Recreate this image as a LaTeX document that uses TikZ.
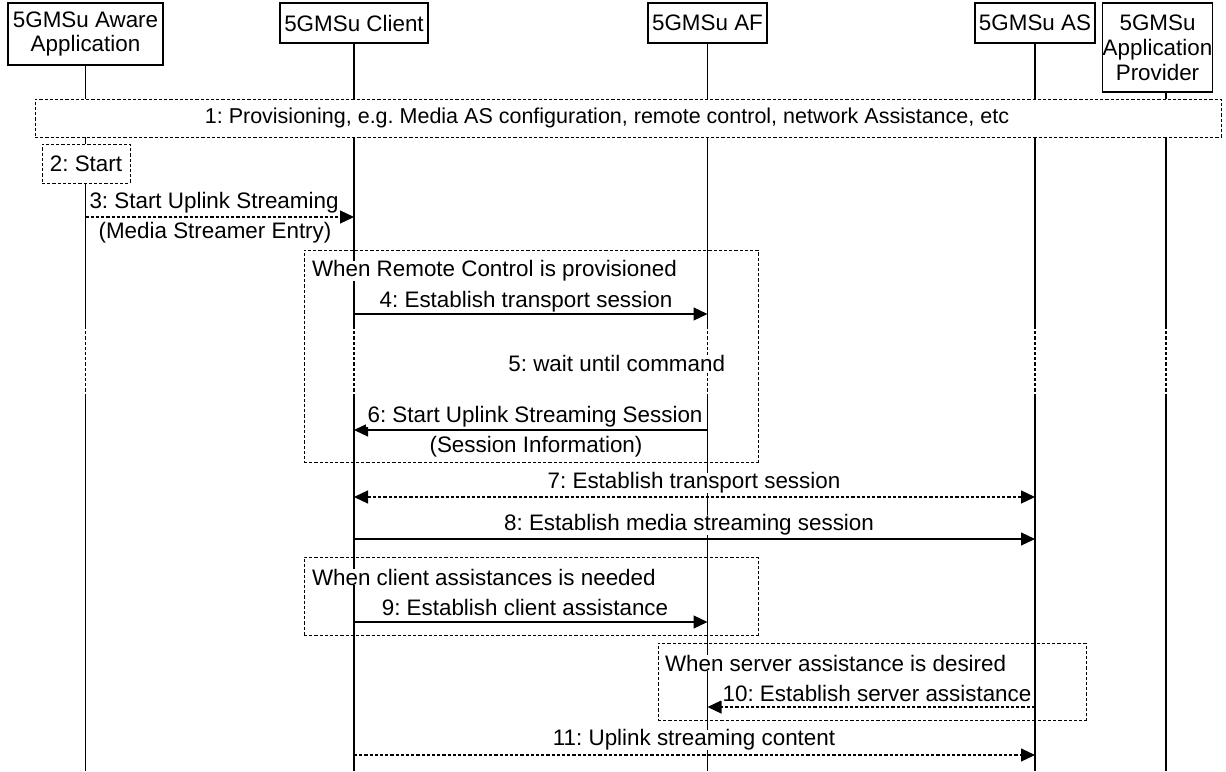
\documentclass[tikz,border=0pt]{standalone}
\usepackage{fontspec}
\setmainfont{Liberation Sans}
\usetikzlibrary{arrows.meta}
\frenchspacing
\begin{document}
\begin{tikzpicture}[x=0.5pt,y=-0.5pt,
  txt/.style={font=\fontsize{11.2}{12.4}\selectfont},
  hdr/.style={txt, draw, line width=0.6pt, fill=white, align=center, inner sep=0pt},
  life/.style={line width=0.6pt},
  dsh/.style={dash pattern=on 1.6pt off 1pt},
  grp/.style={draw, dsh, line width=0.5pt, inner sep=0pt},
  msg/.style={line width=0.6pt, -{Triangle[length=7pt,width=6.5pt]}},
  bimsg/.style={line width=0.6pt, {Triangle[length=7pt,width=6.5pt]}-{Triangle[length=7pt,width=6.5pt]}},
  lbl/.style={txt, fill=white, inner xsep=0.8pt, inner ysep=0pt},
]
\useasboundingbox (0,0) rectangle (1226,771);
% headers
\node[hdr, minimum width=77.5pt, minimum height=31pt] (app) at (85.5,34) {5GMSu Aware\\Application};
\node[hdr, minimum width=74pt, minimum height=20pt] (client) at (354,23) {5GMSu Client};
\node[hdr, minimum width=59.5pt, minimum height=20pt] (af) at (707.5,23) {5GMSu AF};
\node[hdr, minimum width=60pt, minimum height=20pt] (as) at (1035,23) {5GMSu AS};
\node[hdr, minimum width=51.5pt, minimum height=44.5pt] (prov) at (1157.5,47.5) {5GMSu\\Application\\Provider};
\coordinate (provtop) at (1166,92);
% lifelines
\coordinate (d1) at (0,326);
\coordinate (d2) at (0,394);
\coordinate (bot) at (0,771);
\foreach \n in {app.south, client.south, af.south, as.south, provtop} {
  \draw[life] (\n) -- (\n |- d1);
  \draw[life, dsh] (\n |- d1) -- (\n |- d2);
  \draw[life] (\n |- d2) -- (\n |- bot);
}
% step 1 and 2
\node[grp, fill=white, font=\fontsize{10.75}{12}\selectfont, minimum width=593pt, minimum height=19pt] (p1) at (628,118)
  {\hspace*{-21pt}1: Provisioning, e.g. Media AS configuration, remote control, network Assistance, etc};
\node[grp, fill=white, txt, minimum width=44pt, minimum height=19.5pt] (start) at (86,163.5) {2: Start};
% group frames
\node[grp, minimum width=227pt, minimum height=106pt] (rc) at (531,356) {};
\node[grp, minimum width=227pt, minimum height=39pt] (ca) at (531,596) {};
\node[grp, minimum width=214pt, minimum height=38.5pt] (sa) at (872,681.5) {};
% y levels
\coordinate (y3) at (0,217);
\coordinate (y4) at (0,314);
\coordinate (y6) at (0,430);
\coordinate (y7) at (0,497);
\coordinate (y8) at (0,539);
\coordinate (y9) at (0,622);
\coordinate (y10) at (0,707);
\coordinate (y11) at (0,755);
% messages
\draw[msg, dsh] (app.south |- y3) -- (client.south |- y3);
\draw[msg] (client.south |- y4) -- (af.south |- y4);
\draw[msg] (af.south |- y6) -- (client.south |- y6);
\draw[bimsg, dsh] (client.south |- y7) -- (as.south |- y7);
\draw[msg] (client.south |- y8) -- (as.south |- y8);
\draw[msg] (client.south |- y9) -- (af.south |- y9);
\draw[msg, dsh] (as.south |- y10) -- (af.south |- y10);
\draw[msg, dsh] (client.south |- y11) -- (as.south |- y11);
% labels
\node[lbl] (l3a) at (214,203) {3: Start Uplink Streaming};
\node[lbl] (l3b) at (215,233) {(Media Streamer Entry)};
\node[lbl, anchor=west] (lrc) at (310,271) {When Remote Control is provisioned};
\node[lbl] (l4) at (526,302) {4: Establish transport session};
\node[lbl, anchor=east] (l5) at (727,363) {5: wait until command};
\node[lbl] (l6a) at (535,417) {6: Start Uplink Streaming Session};
\node[lbl] (l6b) at (536,447) {(Session Information)};
\node[lbl] (l7) at (694,483) {7: Establish transport session};
\node[lbl] (l8) at (689,525) {8: Establish media streaming session};
\node[lbl, anchor=west] (lca) at (310,577) {When client assistances is needed};
\node[lbl] (l9) at (525,607) {9: Establish client assistance};
\node[lbl, anchor=west] (lsa) at (663,663) {When server assistance is desired};
\node[lbl] (l10) at (877,693) {10: Establish server assistance};
\node[lbl] (l11) at (694,740) {11: Uplink streaming content};
\end{tikzpicture}
\end{document}
